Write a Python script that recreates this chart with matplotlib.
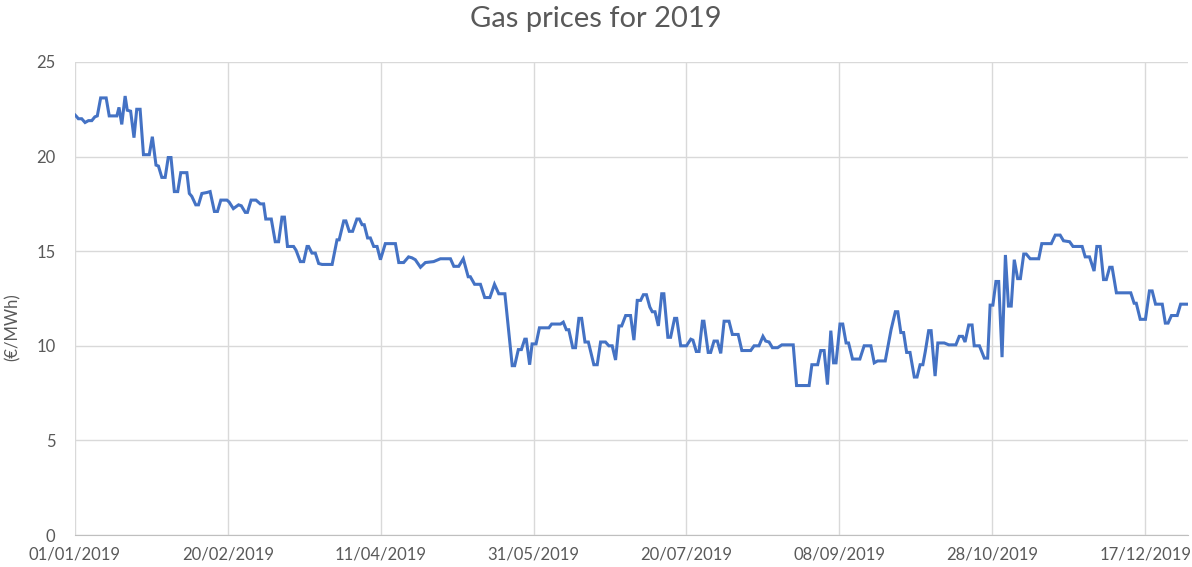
import numpy as np
import pandas as pd
import matplotlib
matplotlib.use("Agg")
import matplotlib.pyplot as plt
import matplotlib.dates as mdates

# days since 01/01/2019
days = [0, 0.6, 1.1, 2.2, 3.3, 4.4, 5.5, 6.5, 7.3, 8.4, 10.2, 11.2, 13.7, 14.4, 15.3, 16.4,
        17.1, 18.2, 19.3, 20.2, 21.3, 22.4, 24.3, 25.3, 26.5, 27.3, 28.4, 29.5, 30.5, 31.4,
        32.5, 33.6, 34.6, 36.6, 37.4, 38.2, 39.5, 40.4, 41.5, 43.1, 44.2, 45.6, 46.6, 47.7,
        49.7, 50.4, 51.8, 53.5, 54.4, 55.7, 56.4, 57.6, 59.2, 60.6, 61.7, 62.4, 64.2, 65.5,
        66.6, 67.7, 68.5, 69.5, 71.5, 72.3, 73.7, 74.8, 75.9, 76.4, 77.5, 78.6, 79.7, 80.8,
        84.1, 85.7, 86.4, 87.9, 88.6, 89.7, 90.8, 92.2, 93.0, 93.9, 94.6, 95.7, 96.6, 97.7,
        98.8, 99.9, 101.5, 104.8, 105.9, 107.5, 109.1, 110.2, 111.3, 113.0, 114.6, 117.3,
        119.5, 122.8, 123.9, 125.5, 127.0, 128.6, 129.3, 130.7, 132.6, 134.0, 135.7, 137.2,
        138.6, 140.6, 143.0, 143.8, 145.0, 146.0, 147.1, 147.6, 148.7, 149.5, 150.8, 151.9,
        155.0, 155.9, 158.8, 159.7, 160.7, 161.5, 162.8, 163.7, 164.8, 165.7, 166.8, 167.9,
        169.7, 170.8, 171.9, 173.5, 174.6, 175.7, 176.8, 177.9, 178.8, 180.1, 181.7, 182.8,
        183.9, 185.0, 185.9, 186.9, 188.0, 188.8, 189.7, 190.8, 191.9, 192.6, 193.9, 194.8,
        196.1, 196.8, 198.1, 200.0, 201.4, 202.1, 203.2, 204.1, 205.2, 205.7, 207.1, 207.9,
        209.0, 210.1, 211.2, 212.3, 213.9, 215.0, 216.9, 218.1, 221.0, 222.1, 223.7, 225.0,
        225.9, 227.0, 228.1, 229.8, 231.2, 234.9, 236.0, 240.1, 241.0, 242.9, 243.9, 245.0,
        246.1, 247.2, 248.1, 248.9, 250.2, 251.1, 252.2, 253.0, 254.3, 256.7, 258.1, 260.3,
        261.4, 262.5, 265.0, 266.9, 268.3, 269.1, 270.1, 271.0, 272.0, 273.1, 274.5, 275.4,
        276.4, 277.3, 278.1, 279.2, 280.0, 281.3, 282.2, 284.3, 285.8, 288.1, 289.2, 290.3,
        291.1, 292.3, 293.4, 294.1, 295.8, 297.4, 298.5, 299.3, 300.2, 301.2, 302.1, 303.2,
        304.3, 305.3, 306.2, 307.2, 308.3, 309.2, 310.3, 311.1, 312.4, 315.2, 316.2, 319.3,
        320.6, 322.2, 323.3, 325.3, 326.4, 329.4, 330.4, 331.8, 333.3, 334.2, 335.3, 336.4,
        337.3, 338.4, 339.2, 340.6, 345.3, 346.4, 347.1, 348.4, 350.1, 351.4, 352.3, 353.4,
        355.6, 356.6, 357.5, 358.6, 360.5, 361.6, 364.0]

prices = [22.2, 22.1, 22.0, 22.0, 21.8, 21.9, 21.9, 22.1, 22.15, 23.1, 23.1, 22.15, 22.15, 22.6, 21.7, 23.2,
          22.45, 22.4, 21.0, 22.5, 22.5, 20.1, 20.1, 21.05, 19.55, 19.5, 18.9, 18.9, 19.95, 19.95,
          18.15, 18.15, 19.15, 19.15, 18.05, 17.9, 17.45, 17.45, 18.05, 18.1, 18.15, 17.1, 17.1, 17.7,
          17.7, 17.6, 17.25, 17.45, 17.4, 17.05, 17.05, 17.7, 17.7, 17.5, 17.5, 16.7, 16.7, 15.5,
          15.5, 16.8, 16.8, 15.25, 15.25, 15.05, 14.45, 14.45, 15.25, 15.25, 14.9, 14.9, 14.35, 14.3,
          14.3, 15.6, 15.6, 16.6, 16.6, 16.05, 16.05, 16.7, 16.7, 16.4, 16.4, 15.7, 15.7, 15.25,
          15.25, 14.55, 15.4, 15.4, 14.4, 14.4, 14.7, 14.65, 14.55, 14.15, 14.4, 14.45,
          14.6, 14.6, 14.2, 14.2, 14.6, 13.65, 13.65, 13.25, 13.25, 12.55, 12.55, 13.25,
          12.75, 12.75, 8.95, 8.95, 9.8, 9.8, 10.35, 10.35, 9.0, 10.1, 10.1, 10.95,
          10.95, 11.15, 11.15, 11.25, 10.85, 10.85, 9.9, 9.9, 11.45, 11.45, 10.2, 10.2,
          9.0, 9.0, 10.2, 10.2, 10.0, 10.0, 9.25, 11.05, 11.05, 11.6, 11.6, 10.3,
          12.4, 12.4, 12.7, 12.7, 12.05, 11.8, 11.8, 11.05, 12.75, 12.75, 10.45, 10.45,
          11.45, 11.45, 10.0, 10.0, 10.35, 10.3, 9.7, 9.7, 11.3, 11.3, 9.65, 9.65,
          10.25, 10.25, 9.6, 11.3, 11.3, 10.6, 10.6, 9.75, 9.75, 10.0, 10.0, 10.5,
          10.25, 10.2, 9.9, 9.9, 10.05, 10.05, 7.9, 7.9, 9.0, 9.0, 9.75, 9.75,
          7.95, 10.8, 9.1, 9.1, 11.15, 11.15, 10.15, 10.15, 9.3, 9.3, 10.0, 10.0,
          9.1, 9.2, 9.2, 10.85, 11.8, 11.8, 10.7, 10.7, 9.65, 9.65, 8.35, 8.35,
          9.0, 9.0, 9.7, 10.8, 10.8, 8.4, 10.15, 10.15, 10.05, 10.05, 10.5, 10.5,
          10.2, 11.1, 11.1, 10.0, 10.0, 9.35, 9.35, 12.15, 12.15, 13.4, 13.4, 9.4,
          14.8, 12.1, 12.1, 14.55, 13.55, 13.55, 14.85, 14.85, 14.6, 14.6, 15.4, 15.4,
          15.85, 15.85, 15.55, 15.5, 15.25, 15.25, 14.7, 14.7, 13.95, 15.25, 15.25, 13.5,
          13.5, 14.15, 14.15, 12.8, 12.8, 12.25, 12.25, 11.4, 11.4, 12.9, 12.9, 12.2,
          12.2, 11.2, 11.2, 11.6, 11.6, 12.2, 12.2]

tick_dates = ["2019-01-01", "2019-02-20", "2019-04-11", "2019-05-31",
              "2019-07-20", "2019-09-08", "2019-10-28", "2019-12-17"]

start = pd.Timestamp("2019-01-01")
x = start + pd.to_timedelta(np.array(days), unit="D")

plt.rcParams['font.family'] = ['Lato', 'DejaVu Sans']
grey = "#595959"

fig = plt.figure(figsize=(11.92, 5.67), dpi=100)
ax = fig.add_axes([0.0629, 0.0564, 0.9337, 0.8343])
ax.plot(x, prices, color="#4472C4", lw=2.2, solid_joinstyle="miter")

ax.set_ylim(0, 25)
ax.set_yticks(range(0, 26, 5))
ax.set_xlim(start, start + pd.Timedelta(days=364))
ax.set_xticks(pd.to_datetime(tick_dates))
ax.xaxis.set_major_formatter(mdates.DateFormatter("%d/%m/%Y"))

ax.grid(True, color="#D9D9D9", lw=1)
ax.set_axisbelow(True)
for s in ["top", "right", "left"]:
    ax.spines[s].set_visible(False)
ax.spines["bottom"].set_color("#BFBFBF")
ax.tick_params(length=0, labelsize=12, colors=grey, pad=8)
ax.tick_params(axis="y", pad=14)

ax.set_ylabel("(€/MWh)", fontsize=12, color=grey)
ax.yaxis.set_label_coords(-0.049, 0.44)
fig.text(0.5, 0.966, "Gas prices for 2019", fontsize=21, color=grey,
         ha="center", va="center")

fig.savefig("out.png", dpi=100)
